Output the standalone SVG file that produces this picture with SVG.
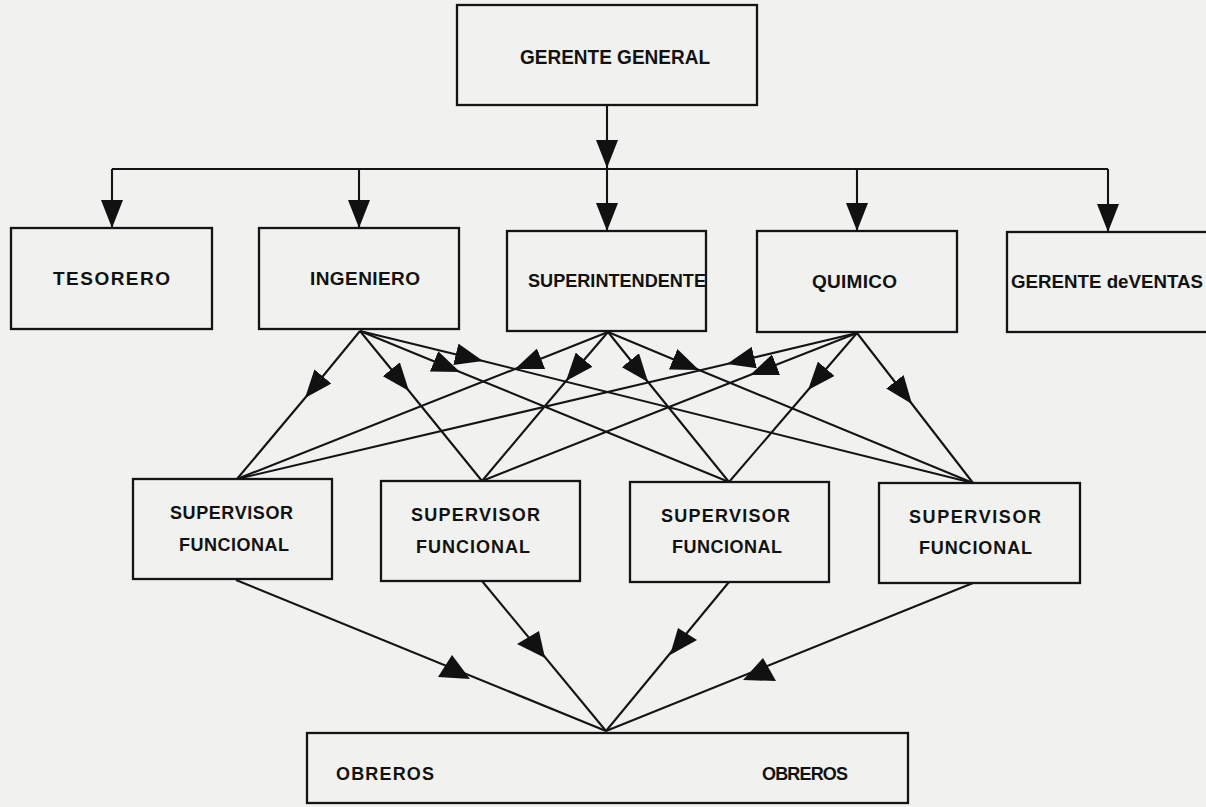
<svg xmlns="http://www.w3.org/2000/svg" width="1206" height="807" viewBox="0 0 1206 807">
<style>
.box{fill:#f1f1ef;stroke:#141414;stroke-width:2.3}
.ln{fill:none;stroke:#141414;stroke-width:2.1}
.lbl{font-family:"Liberation Sans",Arial,sans-serif;font-weight:bold;fill:#111}
.ah{fill:#111}
</style>
<defs>
<marker id="arr" viewBox="0 0 28 22" refX="28" refY="11" markerWidth="28" markerHeight="22" markerUnits="userSpaceOnUse" orient="auto">
<path d="M0,0 L28,11 L0,22 Z" fill="#111"/>
</marker>
</defs>
<rect width="1206" height="807" fill="#f1f1ef"/>
<g id="connectors">
<path class="ln" d="M607,105 L607,168" marker-end="url(#arr)"/>
<path class="ln" d="M607,168 L607,231" marker-end="url(#arr)"/>
<path class="ln" d="M112,169 L1108,169"/>
<path class="ln" d="M112,169 L112,228" marker-end="url(#arr)"/>
<path class="ln" d="M359,169 L359,228" marker-end="url(#arr)"/>
<path class="ln" d="M857,169 L857,231" marker-end="url(#arr)"/>
<path class="ln" d="M1108,169 L1108,232" marker-end="url(#arr)"/>
<path class="ln" d="M360,331 L305,398 L237,479" marker-mid="url(#arr)"/>
<path class="ln" d="M360,331 L409,391 L482,481" marker-mid="url(#arr)"/>
<path class="ln" d="M360,331 L460,372 L729,482" marker-mid="url(#arr)"/>
<path class="ln" d="M360,331 L483,361 L973,483" marker-mid="url(#arr)"/>
<path class="ln" d="M608,332 L515,369 L237,479" marker-mid="url(#arr)"/>
<path class="ln" d="M608,332 L566,381 L482,481" marker-mid="url(#arr)"/>
<path class="ln" d="M608,332 L648,382 L729,482" marker-mid="url(#arr)"/>
<path class="ln" d="M608,332 L699,370 L973,483" marker-mid="url(#arr)"/>
<path class="ln" d="M857,333 L727,364 L237,479" marker-mid="url(#arr)"/>
<path class="ln" d="M857,333 L750,375 L482,481" marker-mid="url(#arr)"/>
<path class="ln" d="M857,333 L808,390 L729,482" marker-mid="url(#arr)"/>
<path class="ln" d="M857,333 L912,404 L973,483" marker-mid="url(#arr)"/>
<path class="ln" d="M236,580 L606,731"/>
<path class="ln" d="M482,581 L606,731"/>
<path class="ln" d="M729,582 L606,731"/>
<path class="ln" d="M973,583 L606,731"/>
<polygon class="ah" points="452,655 438,677 470,679"/>
<polygon class="ah" points="517,644 539,631 545,658"/>
<polygon class="ah" points="678,628 697,640 670,655"/>
<polygon class="ah" points="763,658 743,680 776,681"/>
</g>
<g id="gerente-general">
<rect class="box" x="457" y="5" width="300" height="100"/>
<text class="lbl" x="520" y="64" font-size="21" textLength="190" lengthAdjust="spacingAndGlyphs">GERENTE GENERAL</text>
</g>
<g id="tesorero">
<rect class="box" x="11" y="228" width="201" height="101"/>
<text class="lbl" x="53" y="285" font-size="19" textLength="117">TESORERO</text>
</g>
<g id="ingeniero">
<rect class="box" x="259" y="228" width="200" height="101"/>
<text class="lbl" x="310" y="285" font-size="19" textLength="110">INGENIERO</text>
</g>
<g id="superintendente">
<rect class="box" x="507" y="231" width="199" height="100"/>
<text class="lbl" x="528" y="287" font-size="19" textLength="178" lengthAdjust="spacingAndGlyphs">SUPERINTENDENTE</text>
</g>
<g id="quimico">
<rect class="box" x="757" y="231" width="200" height="101"/>
<text class="lbl" x="812" y="288" font-size="19" textLength="85">QUIMICO</text>
</g>
<g id="gerente-ventas">
<rect class="box" x="1007" y="232" width="230" height="100"/>
<text class="lbl" x="1011" y="288" font-size="19" textLength="192" lengthAdjust="spacingAndGlyphs">GERENTE deVENTAS</text>
</g>
<g id="supervisor-1">
<rect class="box" x="133" y="479" width="199" height="100"/>
<text class="lbl" x="170" y="519" font-size="18" textLength="123">SUPERVISOR</text>
<text class="lbl" x="179" y="551" font-size="18" textLength="110">FUNCIONAL</text>
</g>
<g id="supervisor-2">
<rect class="box" x="381" y="481" width="199" height="100"/>
<text class="lbl" x="411" y="521" font-size="18" textLength="129">SUPERVISOR</text>
<text class="lbl" x="416" y="553" font-size="18" textLength="114">FUNCIONAL</text>
</g>
<g id="supervisor-3">
<rect class="box" x="630" y="482" width="199" height="100"/>
<text class="lbl" x="661" y="522" font-size="18" textLength="129">SUPERVISOR</text>
<text class="lbl" x="672" y="553" font-size="18" textLength="110">FUNCIONAL</text>
</g>
<g id="supervisor-4">
<rect class="box" x="879" y="483" width="201" height="100"/>
<text class="lbl" x="909" y="523" font-size="18" textLength="132">SUPERVISOR</text>
<text class="lbl" x="919" y="554" font-size="18" textLength="113">FUNCIONAL</text>
</g>
<g id="obreros">
<rect class="box" x="307" y="733" width="601" height="70"/>
<text class="lbl" x="336" y="780" font-size="18" textLength="98">OBREROS</text>
<text class="lbl" x="762" y="780" font-size="18" textLength="86">OBREROS</text>
</g>
</svg>
